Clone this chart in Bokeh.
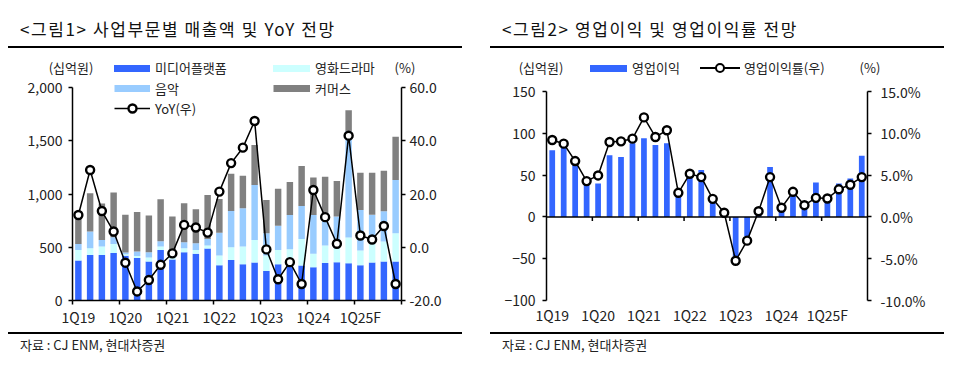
import numpy as np
from bokeh.plotting import figure
from bokeh.models import (Range1d, LinearAxis, FixedTicker, NumeralTickFormatter, PrintfTickFormatter,
                          Legend, LegendItem, Span, Div, ColumnDataSource)
from bokeh.layouts import row, column
from bokeh.embed import file_html
from bokeh.resources import INLINE

# ---------------- data ----------------
quarters = ["1Q19", "2Q19", "3Q19", "4Q19", "1Q20", "2Q20", "3Q20", "4Q20",
            "1Q21", "2Q21", "3Q21", "4Q21", "1Q22", "2Q22", "3Q22", "4Q22",
            "1Q23", "2Q23", "3Q23", "4Q23", "1Q24", "2Q24", "3Q24", "4Q24",
            "1Q25F", "2Q25F", "3Q25F", "4Q25F"]
x_tick_labels = ["1Q19", "1Q20", "1Q21", "1Q22", "1Q23", "1Q24", "1Q25F"]

# 매출액 (십억원)
media = [375, 428, 428, 447, 420, 400, 366, 475, 385, 453, 438, 488, 331, 381,
         341, 356, 278, 341, 334, 328, 313, 353, 359, 350, 331, 356, 366, 366]
drama = [100, 62, 78, 84, 15, 19, 37, 31, 20, 37, 37, 28, 91, 119,
         165, 213, 144, 134, 147, 250, 125, 163, 132, 241, 138, 197, 187, 265]
music = [56, 157, 63, 63, 15, 40, 50, 50, 20, 57, 62, 62, 215, 340,
         360, 515, 209, 228, 322, 309, 365, 303, 297, 999, 381, 253, 285, 500]
commerce = [265, 359, 341, 419, 355, 372, 344, 394, 363, 366, 319, 413, 316, 350,
            306, 375, 313, 347, 310, 376, 353, 344, 334, 197, 350, 394, 381, 407]
yoy = [12.1, 29.0, 13.6, 5.9, -5.8, -16.6, -12.3, -6.6, -2.3, 8.4, 7.4, 5.5, 20.9, 31.6,
       37.4, 47.4, -0.8, -12.0, -5.6, -13.8, 21.5, 11.3, 1.3, 41.9, 4.4, 2.9, 8.0, -13.8]

# 영업이익 (십억원), 영업이익률 (%)
op_profit = [79.6, 83, 63, 41, 40, 73.6, 71.6, 88, 94, 86, 88, 31, 47, 56,
             19.6, 4, -47, -23, 5, 59.6, 10, 27, 13, 41, 21, 40, 46, 73]
op_margin = [9.2, 8.76, 6.68, 4.28, 4.96, 8.96, 9.04, 9.36, 11.9, 9.56, 10.36, 2.88, 5.16, 4.76,
             2.16, 0.5, -5.24, -2.84, 0.68, 4.76, 1.1, 3.0, 1.4, 2.28, 2.2, 3.3, 3.85, 4.76]

FONT = "Noto Sans CJK KR"
TXT = "#222222"
BLUE = "#3366FF"
CYAN = "#CCFFFF"
LBLUE = "#99CCFF"
GRAY = "#808080"

n = len(quarters)
xs = list(range(n))
tick_idx = [quarters.index(t) for t in x_tick_labels]
overrides = {i: quarters[i] for i in tick_idx}
bounds = [i - 0.5 for i in range(0, n + 1, 4)]

# ---------------- geometry (page pixels) ----------------
PANEL_W = 454
HEAD_H = 29          # header strip (unit labels + first legend row)
MAIN_H = 253         # main chart figure
MAIN_BOTTOM = 31     # space below the frame for x labels
FRAME_H = MAIN_H - MAIN_BOTTOM
L_AXIS_PX = 213      # pixel length of left chart's value axis (0..2000)
R_AXIS_PX = 209      # pixel length of right chart's value axis (-100..150)


def style_axis(ax, size="14px"):
    ax.major_label_text_font = FONT
    ax.major_label_text_font_size = size
    ax.major_label_text_color = TXT
    ax.axis_line_color = "black"
    ax.axis_line_width = 1.5
    ax.major_tick_line_color = "black"
    ax.major_tick_line_width = 1.5
    ax.minor_tick_line_color = "black"
    ax.minor_tick_line_width = 1.5


def make_legend(items, vx, vy, gw, standoff):
    return Legend(items=items, location=(vx, vy), orientation="vertical",
                  glyph_width=gw, glyph_height=20, label_height=20, label_width=10,
                  label_standoff=standoff, spacing=0, padding=0, margin=0,
                  border_line_color=None, background_fill_alpha=0,
                  label_text_font=FONT, label_text_font_size="13px", label_text_color=TXT)


# ---------------- HTML header strip: unit labels and first legend row ----------------
TXT_CSS = f"font-family:'{FONT}';font-size:13px;line-height:18px;color:{TXT};white-space:nowrap;"


def h_text(text, x, center=False):
    tr = "translate(-50%,-50%)" if center else "translate(0,-50%)"
    return f'<span style="position:absolute;left:{x}px;top:19px;transform:{tr};{TXT_CSS}">{text}</span>'


def h_swatch(color, x0, w):
    return (f'<div style="position:absolute;left:{x0}px;top:15.5px;width:{w}px;height:7px;'
            f'background:{color};"></div>')


def h_linemarker(x0, w):
    cx = x0 + w / 2
    return (f'<div style="position:absolute;left:{x0}px;top:18.25px;width:{w}px;height:1.5px;background:#000;"></div>'
            f'<div style="position:absolute;left:{cx - 5.2}px;top:13.8px;width:10.4px;height:10.4px;'
            f'box-sizing:border-box;border:2.4px solid #000;border-radius:50%;background:#fff;"></div>')


def header_div(parts):
    html = f'<div style="position:relative;width:{PANEL_W}px;height:{HEAD_H}px;">' + "".join(parts) + '</div>'
    return Div(text=html, width=PANEL_W, height=HEAD_H, margin=0)


head1 = header_div([h_text("(십억원)", 63, True),
                    h_swatch(BLUE, 106, 36), h_text("미디어플랫폼", 147),
                    h_swatch(CYAN, 265, 37), h_text("영화드라마", 307),
                    h_text("(%)", 397, True)])
head2 = header_div([h_text("(십억원)", 51, True),
                    h_swatch(BLUE, 100, 37), h_text("영업이익", 142),
                    h_linemarker(210, 40), h_text("영업이익률(우)", 254),
                    h_text("(%)", 380, True)])

# ---------------- left chart ----------------
src1 = ColumnDataSource(dict(x=xs, media=media, drama=drama, music=music, commerce=commerce, yoy=yoy))
y1_end = 2000 * FRAME_H / L_AXIS_PX
p1 = figure(width=PANEL_W, height=MAIN_H, x_range=Range1d(-0.5, n - 0.5), y_range=Range1d(0, y1_end),
            output_backend="svg", toolbar_location=None, title=None,
            min_border_left=64, min_border_right=61, min_border_top=0, min_border_bottom=MAIN_BOTTOM)
p1.extra_y_ranges = {"pct": Range1d(-20, -20 + 80 * FRAME_H / L_AXIS_PX)}
p1.outline_line_color = None
p1.grid.visible = False

bars = p1.vbar_stack(["media", "drama", "music", "commerce"], x="x", width=0.55,
                     fill_color=[BLUE, CYAN, LBLUE, GRAY], line_color=None, source=src1)
l1 = p1.line("x", "yoy", source=src1, y_range_name="pct", line_color="black", line_width=1.5)
s1 = p1.scatter("x", "yoy", source=src1, y_range_name="pct", size=8, marker="circle",
                fill_color="white", line_color="black", line_width=2.4)
# legend-only swatches (no visible data)
d_music = p1.line(x=[np.nan, np.nan], y=[np.nan, np.nan], line_color=LBLUE, line_width=7)
d_comm = p1.line(x=[np.nan, np.nan], y=[np.nan, np.nan], line_color=GRAY, line_width=7)

ax = p1.xaxis[0]
ax.ticker = FixedTicker(ticks=tick_idx, minor_ticks=bounds)
ax.major_label_overrides = overrides
ax.major_tick_out = 0
ax.major_tick_in = 0
ax.minor_tick_out = 4
ax.minor_tick_in = 0
ax.major_label_standoff = 2
style_axis(ax)

ay = p1.yaxis[0]
ay.ticker = FixedTicker(ticks=[0, 500, 1000, 1500, 2000])
ay.formatter = NumeralTickFormatter(format="0,0")
ay.bounds = (0, 2000)
ay.major_tick_out = 4
ay.major_tick_in = 0
ay.minor_tick_out = 0
ay.major_label_standoff = 6
style_axis(ay)

ayr = LinearAxis(y_range_name="pct", ticker=FixedTicker(ticks=[-20, 0, 20, 40, 60]),
                 formatter=NumeralTickFormatter(format="0.0"), bounds=(-20, 60))
ayr.major_tick_out = 4
ayr.major_tick_in = 0
ayr.minor_tick_out = 0
ayr.major_label_standoff = 4
style_axis(ayr)
p1.add_layout(ayr, "right")

p1.add_layout(make_legend([LegendItem(label="음악", renderers=[d_music]),
                           LegendItem(label="YoY(우)", renderers=[l1, s1])], 42, 182, 36, 5), "center")
p1.add_layout(make_legend([LegendItem(label="커머스", renderers=[d_comm])], 201, 202, 37, 5), "center")

# ---------------- right chart ----------------
src2 = ColumnDataSource(dict(x=xs, op=op_profit, margin=op_margin))
p2 = figure(width=PANEL_W, height=MAIN_H, x_range=Range1d(-0.5, n - 0.5),
            y_range=Range1d(-100, -100 + 250 * FRAME_H / R_AXIS_PX),
            output_backend="svg", toolbar_location=None, title=None,
            min_border_left=56, min_border_right=77, min_border_top=0, min_border_bottom=MAIN_BOTTOM)
p2.extra_y_ranges = {"pct": Range1d(-10, -10 + 25 * FRAME_H / R_AXIS_PX)}
p2.outline_line_color = None
p2.grid.visible = False

b2 = p2.vbar(x="x", top="op", bottom=0, width=0.5, source=src2, fill_color=BLUE, line_color=None)
p2.add_layout(Span(location=0, dimension="width", line_color="black", line_width=1.5))
tb = [b for b in bounds if 0 < b < n - 1]
p2.segment(x0=tb, y0=[0] * len(tb), x1=tb, y1=[-5] * len(tb), line_color="black", line_width=1.5)
l2 = p2.line("x", "margin", source=src2, y_range_name="pct", line_color="black", line_width=1.5)
s2 = p2.scatter("x", "margin", source=src2, y_range_name="pct", size=8, marker="circle",
                fill_color="white", line_color="black", line_width=2.4)

bx = p2.xaxis[0]
bx.ticker = FixedTicker(ticks=tick_idx)
bx.major_label_overrides = overrides
bx.major_tick_out = 0
bx.major_tick_in = 0
bx.minor_tick_out = 0
bx.minor_tick_in = 0
bx.major_label_standoff = 4
style_axis(bx)
bx.axis_line_color = None

by = p2.yaxis[0]
by.ticker = FixedTicker(ticks=[-100, -50, 0, 50, 100, 150])
by.bounds = (-100, 150)
by.major_tick_out = 4
by.major_tick_in = 0
by.minor_tick_out = 0
by.major_label_standoff = 7
style_axis(by)

byr = LinearAxis(y_range_name="pct", ticker=FixedTicker(ticks=[-10, -5, 0, 5, 10, 15]),
                 formatter=PrintfTickFormatter(format="%.1f%%"), bounds=(-10, 15))
byr.major_tick_out = 4
byr.major_tick_in = 0
byr.minor_tick_out = 0
byr.major_label_standoff = 9
style_axis(byr)
p2.add_layout(byr, "right")


# ---------------- titles and sources ----------------
def title_div(text):
    html = (f'<div style="position:relative;width:{PANEL_W}px;height:41px;">'
            f'<span style="position:absolute;left:12px;top:11px;font-family:\'{FONT}\';font-size:17px;'
            f'letter-spacing:1.6px;line-height:20px;color:#111;white-space:nowrap;">{text}</span>'
            f'<div style="position:absolute;left:0;top:38px;width:{PANEL_W}px;height:2px;background:#000;"></div>'
            '</div>')
    return Div(text=html, width=PANEL_W, height=41, margin=0)


def source_div(text):
    html = (f'<div style="position:relative;width:{PANEL_W}px;height:28px;">'
            f'<div style="position:absolute;left:0;top:1px;width:{PANEL_W}px;height:2px;background:#000;"></div>'
            f'<span style="position:absolute;left:12px;top:5px;font-family:\'{FONT}\';font-size:13px;'
            f'line-height:18px;color:#222;white-space:nowrap;">{text}</span>'
            '</div>')
    return Div(text=html, width=PANEL_W, height=28, margin=0)


left = column(title_div("&lt;그림1&gt; 사업부문별 매출액 및 YoY 전망"), head1, p1,
              source_div("자료 : CJ ENM, 현대차증권"), spacing=0)
right = column(title_div("&lt;그림2&gt; 영업이익 및 영업이익률 전망"), head2, p2,
               source_div("자료 : CJ ENM, 현대차증권"), spacing=0)
layout = row(left, right, spacing=28, margin=(8, 8, 8, 8))

open("out.html", "w").write(file_html(layout, INLINE))
